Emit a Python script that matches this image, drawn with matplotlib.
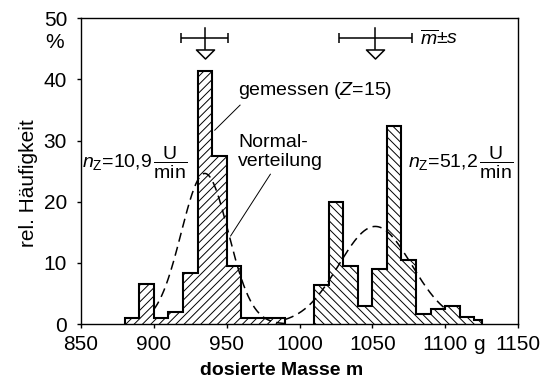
import numpy as np
import matplotlib
matplotlib.use("Agg")
import matplotlib.pyplot as plt
from matplotlib.path import Path
from matplotlib.transforms import blended_transform_factory

plt.rcParams['font.family'] = ['Liberation Sans', 'DejaVu Sans']
plt.rcParams['mathtext.fontset'] = 'custom'
plt.rcParams['mathtext.rm'] = 'Liberation Sans'
plt.rcParams['mathtext.it'] = 'Liberation Sans:italic'
plt.rcParams['mathtext.bf'] = 'Liberation Sans:bold'
plt.rcParams['hatch.linewidth'] = 0.7

# measured distributions (relative frequency in % per 10 g class)
left_edges = [880, 890, 900, 910, 920, 930, 940, 950, 960, 970, 980, 990]
left_heights = [1.0, 6.6, 1.0, 2.0, 8.4, 41.4, 27.5, 9.5, 1.0, 1.0, 1.0]
right_edges = [1010, 1020, 1030, 1040, 1050, 1060, 1070, 1080, 1090, 1100,
               1110, 1120, 1125]
right_heights = [6.4, 19.9, 9.5, 2.9, 9.0, 32.4, 10.4, 1.6, 2.4, 3.0, 1.1, 0.6]

# fitted normal distributions: mean and standard deviation in g
means = [935, 1052]
stdevs = [16.2, 25.0]
curve_ranges = [(900, 990), (990, 1100)]
speeds = ["10,9", "51,2"]

x_ticks = [850, 900, 950, 1000, 1050, 1100, 1150]
y_ticks = [0, 10, 20, 30, 40, 50]

fig = plt.figure(figsize=(5.43, 3.81), dpi=100)
ax = fig.add_axes([81 / 543, 1 - 324 / 381, 437 / 543, 305.7 / 381])

# hatched classes with stepped outline
for edges, heights, hatch in [(left_edges, left_heights, '////'),
                              (right_edges, right_heights, '\\\\\\\\')]:
    e = np.array(edges, dtype=float)
    ax.bar(e[:-1], heights, width=np.diff(e), align='edge', fill=False,
           hatch=hatch, edgecolor='black', linewidth=0, zorder=2)
    ax.stairs(heights, e, baseline=0, color='black', linewidth=1.5, zorder=3)

# normal distribution curves, scaled to 100 % per 10 g class
for m, s, (a, b) in zip(means, stdevs, curve_ranges):
    x = np.linspace(a, b, 300)
    y = 100 * 10 / (s * np.sqrt(2 * np.pi)) * np.exp(-0.5 * ((x - m) / s) ** 2)
    ax.plot(x, y, color='black', linewidth=1.1, dashes=(6, 3.5), zorder=4)

# mean +/- standard deviation symbols
tri = Path([(-1, 0.5), (1, 0.5), (0, -0.5), (-1, 0.5)],
           [Path.MOVETO, Path.LINETO, Path.LINETO, Path.CLOSEPOLY])
for m, s in zip(means, stdevs):
    ax.errorbar(m, 46.7, xerr=s, color='black', linewidth=1.1, capsize=3.6,
                capthick=1.1, clip_on=False, zorder=5)
    ax.plot([m, m], [44.9, 48.4], color='black', linewidth=1.1, zorder=5)
    ax.plot(m, 44.15, marker=tri, markersize=13, markerfacecolor='white',
            markeredgecolor='black', markeredgewidth=1.1, linestyle='none',
            zorder=6)
ax.text(1082.7, 46.6, r'$\overline{m}$±$s$', fontsize=14, ha='left',
        va='center')

# annotations
ax.text(957.8, 37.4, 'gemessen ($Z$=15)', fontsize=14, ha='left',
        va='baseline')
ax.plot([959.2, 941.8], [35.8, 31.7], color='black', linewidth=0.7, zorder=5)
ax.text(957.8, 28.9, 'Normal-', fontsize=14, ha='left', va='baseline')
ax.text(957.8, 25.8, 'verteilung', fontsize=14, ha='left', va='baseline')
ax.plot([980.0, 952.7], [24.5, 14.4], color='black', linewidth=0.7, zorder=5)

for xpos, sp in zip([850.7, 1074.5], speeds):
    ax.text(xpos, 26.3,
            r'$n_\mathrm{Z}$=' + sp + r'$\,\dfrac{\mathrm{U}}{\mathrm{min}}$',
            fontsize=14, ha='left', va='center')

# axes
ax.set_xlim(850, 1150)
ax.set_ylim(0, 50)
ax.set_xticks(x_ticks)
ax.set_yticks(y_ticks)
ax.set_xticklabels([str(t) for t in x_ticks])
ax.set_yticklabels([str(t) for t in y_ticks])
ax.tick_params(direction='out', length=3, width=1.0, labelsize=15)
ax.tick_params(axis='x', pad=5)
ax.tick_params(axis='y', pad=7)
for sp in ax.spines.values():
    sp.set_linewidth(1.0)

# units
ax.text(-0.0595, 46.1, '%', fontsize=15, ha='center', va='center',
        transform=blended_transform_factory(ax.transAxes, ax.transData))
ax.text(1123, -0.085, 'g', fontsize=15, ha='center', va='baseline',
        transform=blended_transform_factory(ax.transData, ax.transAxes))

fig.text(28 / 543, 1 - 183 / 381, 'rel. Häufigkeit', fontsize=15,
         rotation=90, ha='center', va='center')
fig.text(282 / 543, 1 - 375 / 381, 'dosierte Masse m', fontsize=14,
         fontweight='bold', ha='center', va='baseline')

fig.savefig('out.png', dpi=100)
